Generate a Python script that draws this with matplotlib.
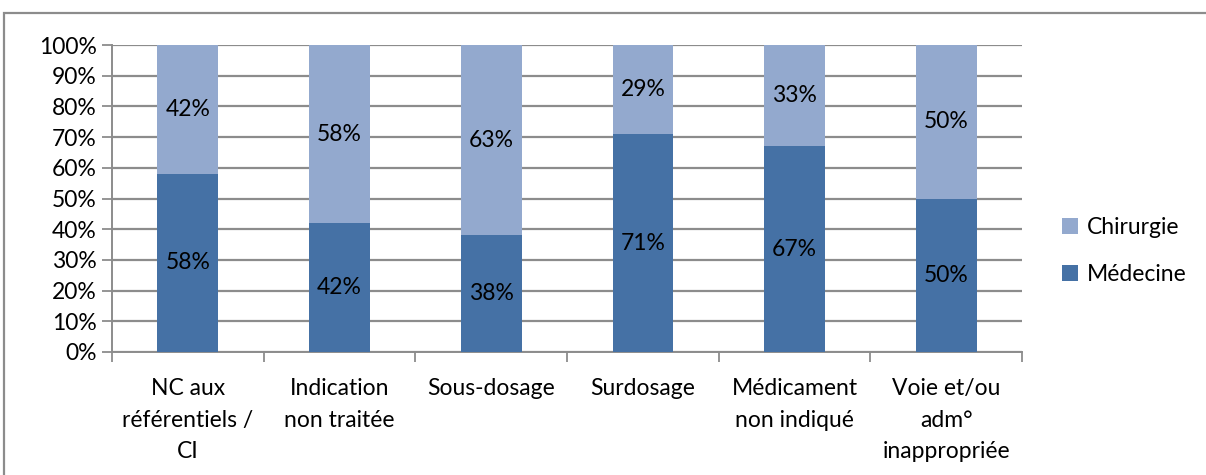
import matplotlib
matplotlib.use("Agg")
import matplotlib.pyplot as plt
from matplotlib.patches import Rectangle
import numpy as np

categories = [
    "NC aux\nréférentiels /\nCI",
    "Indication\nnon traitée",
    "Sous-dosage",
    "Surdosage",
    "Médicament\nnon indiqué",
    "Voie et/ou\nadm°\ninappropriée",
]
medecine = [58, 42, 38, 71, 67, 50]
chirurgie = [42, 58, 63, 29, 33, 50]
series_names = ["Médecine", "Chirurgie"]
yticks = list(range(0, 101, 10))

col_med = "#4571A5"
col_chi = "#93A9CE"
grid_col = "#8C8C8C"
fs = 16.5

plt.rcParams["font.family"] = ["Lato", "DejaVu Sans"]

fig = plt.figure(figsize=(12.06, 4.75), dpi=100)
ax = fig.add_axes([112 / 1206, 1 - 352 / 475, (1022 - 112) / 1206, (352 - 45) / 475])

# chart-area frame
fig.patches.append(Rectangle((4 / 1206, -0.05), 1.1, 1 - 13 / 475 + 0.05,
                             transform=fig.transFigure, fill=False,
                             edgecolor="#8C8C8C", linewidth=1.6))

x = np.arange(len(categories))
med = np.array(medecine) / 100
chi = np.array(chirurgie) / 100
w = 0.4
b1 = ax.bar(x, med, w, color=col_med, label=series_names[0], zorder=3)
b2 = ax.bar(x, chi, w, bottom=med, color=col_chi, label=series_names[1], zorder=3)

for i in range(len(x)):
    ax.text(x[i], med[i] / 2, f"{medecine[i]}%", ha="center", va="center",
            fontsize=fs, color="black", zorder=4)
    top = min(med[i] + chi[i], 1.0)
    ax.text(x[i], (med[i] + top) / 2, f"{chirurgie[i]}%", ha="center", va="center",
            fontsize=fs, color="black", zorder=4)

ax.set_xlim(-0.5, len(categories) - 0.5)
ax.set_ylim(0, 1)
ax.set_yticks([v / 100 for v in yticks])
ax.set_yticklabels([f"{v}%" for v in yticks], fontsize=fs)
ax.yaxis.grid(True, color=grid_col, linewidth=1.6, zorder=0)
ax.set_axisbelow(True)

ax.set_xticks(x)
ax.set_xticklabels(categories, fontsize=fs, linespacing=1.6, va="top")
ax.set_xticks(np.arange(len(categories) + 1) - 0.5, minor=True)
ax.tick_params(axis="x", which="major", length=0, pad=19)
ax.tick_params(axis="x", which="minor", length=7, width=1.3, color=grid_col, direction="out")
ax.tick_params(axis="y", length=7, width=1.3, color=grid_col, direction="out", pad=4)

for s in ["top", "right"]:
    ax.spines[s].set_visible(False)
for s in ["left", "bottom"]:
    ax.spines[s].set_color(grid_col)
    ax.spines[s].set_linewidth(1.4)

handles = [b2, b1]
leg = fig.legend(handles, [series_names[1], series_names[0]], loc="center left",
                 bbox_to_anchor=(1062 / 1206, 1 - 251 / 475), frameon=False,
                 fontsize=fs, handlelength=0.7, handleheight=0.7,
                 labelspacing=1.15, handletextpad=0.4, borderpad=0, borderaxespad=0)

fig.savefig("out.png", dpi=100)
